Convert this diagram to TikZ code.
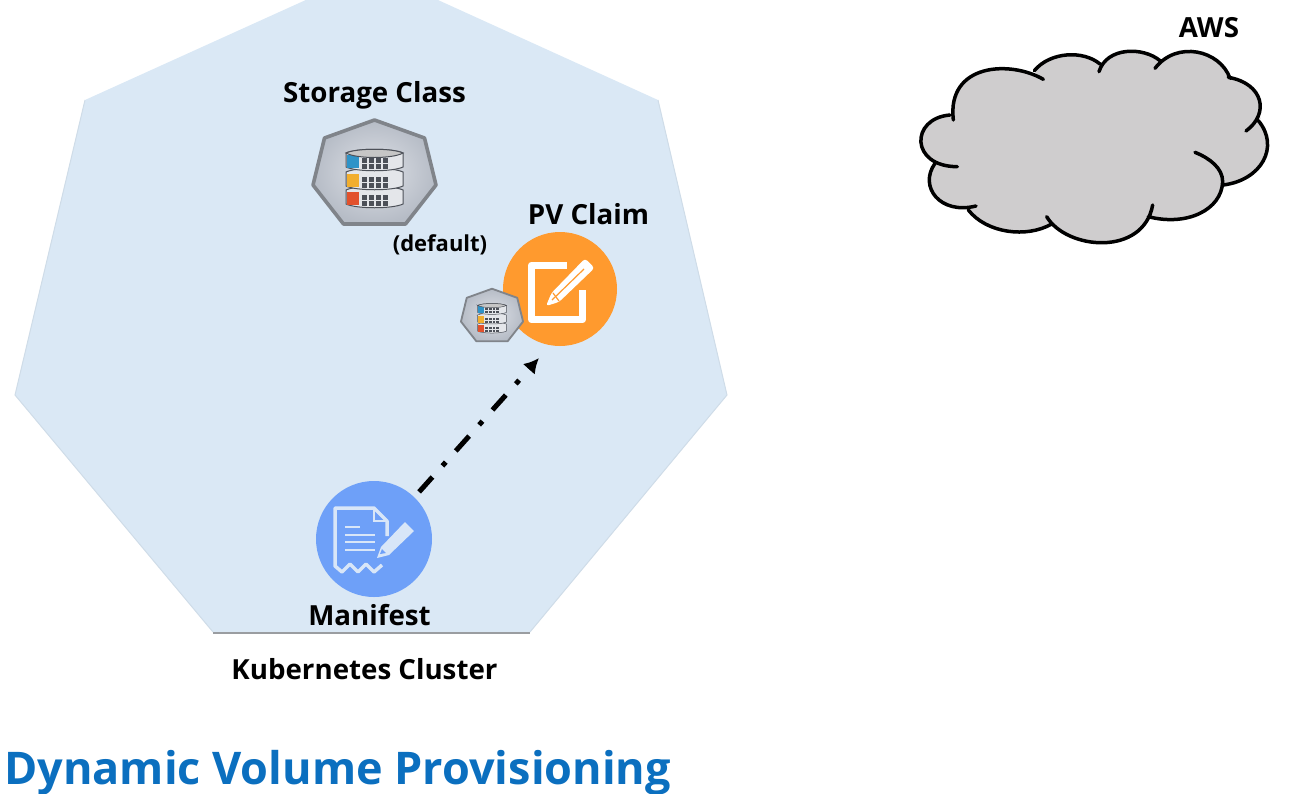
\documentclass[tikz,border=0pt]{standalone}
\usepackage{fontspec}
\setmainfont{Open Sans}
\usetikzlibrary{calc,arrows.meta,shadings}

\definecolor{clusterblue}{HTML}{DAE8F5}
\definecolor{edgegray}{HTML}{80848A}
\definecolor{cloudgray}{HTML}{CFCDCE}
\definecolor{claimorange}{HTML}{FF9A2E}
\definecolor{manifestblue}{HTML}{6EA0F8}
\definecolor{manifestline}{HTML}{D8E6F8}
\definecolor{titleblue}{HTML}{0B6FBF}
\definecolor{diskblue}{HTML}{2E93C8}
\definecolor{diskorange}{HTML}{F2AE2E}
\definecolor{diskred}{HTML}{E2512C}
\definecolor{diskline}{HTML}{4C5058}
\definecolor{hubcenter}{HTML}{DEE1E7}
\definecolor{hubedge}{HTML}{B6BCC6}
\definecolor{diskbody}{HTML}{E4E6EA}

\newcommand{\cloudlobes}{
    (430,238) .. controls (330,180) and (140,190) .. (160,360)
    (150,345) .. controls (30,355) and (30,500) .. (172,500)
    (105,490) .. controls (55,560) and (120,645) .. (228,618)
    (205,630) .. controls (260,700) and (380,715) .. (455,672)
    (440,650) .. controls (500,750) and (730,770) .. (758,615)
    (745,650) .. controls (860,680) and (965,630) .. (968,545) .. controls (968,505) and (930,475) .. (885,457)
    (970,555) .. controls (1085,540) and (1140,440) .. (1075,362)
    (1038,393) .. controls (1110,340) and (1090,250) .. (985,232)
    (990,235) .. controls (960,150) and (830,120) .. (765,205)
    (780,182) .. controls (730,140) and (620,140) .. (597,215)
    (600,192) .. controls (550,150) and (450,155) .. (403,212)
}

\tikzset{
    lab/.style={font=\bfseries\fontsize{27.7}{30}\selectfont,text=black,inner sep=0},
    storage/.pic={
        \draw[edgegray,line width=3.6pt*#1,line join=round,inner color=hubcenter,outer color=hubedge]
            (0,-55) -- (50,-37) -- (61.5,10) -- (31,49) -- (-31,49) -- (-61.5,10) -- (-50,-37) -- cycle;
        % three disks, lowest first
        \foreach \y/\c in {15/diskred,-3/diskorange,-22/diskblue}
        {
            \draw[diskline,line width=1pt*#1,fill=diskbody]
                (-28.5,\y) -- (-28.5,\y+14) .. controls (-18,\y+19) and (18,\y+19) .. (28.5,\y+14)
                -- (28.5,\y) .. controls (18,\y-5) and (-18,\y-5) .. cycle;
            \fill[\c] (-28,\y+2) rectangle (-16,\y+15);
            \foreach \u in {-13,-6,1,8}
                \foreach \v in {5,11}
                    \fill[diskline] (\u,\y+\v) rectangle ++(5.5,4.5);
        }
        \draw[diskline,line width=1pt*#1,fill=gray!45!white]
            (-28.5,-22) .. controls (-18,-27) and (18,-27) .. (28.5,-22)
            .. controls (18,-16) and (-18,-16) .. cycle;
    },
}

\begin{document}
\begin{tikzpicture}[x=1pt,y=-1pt]
    \useasboundingbox (0,0) rectangle (1312,793);

    % cluster
    \fill[clusterblue] (85,100) -- (372,-30) -- (658,100) -- (727,395) -- (530,632) -- (213,632) -- (15,395) -- cycle;
    \draw[edgegray!80!white,line width=2pt] (213,633) -- (530,633);
    \draw[edgegray!12!clusterblue,line width=1pt] (530,632) -- (727,395) -- (658,100);
    \draw[edgegray!12!clusterblue,line width=1pt] (213,632) -- (15,395) -- (85,100);

    % storage class
    \node[lab] (stclass) at (374.5,95) {Storage Class};
    \pic (stbig) at (374.5,175) {storage=1};
    \node[lab,font=\bfseries\fontsize{22}{24}\selectfont] (stdefault) at (440,245) {(default)};

    % pv claim
    \node[lab] (pvclaim) at (588.5,214) {PV Claim};
    \node[circle,fill=claimorange,minimum size=114pt,inner sep=0] (claim) at (560,289) {};
    \draw[white,line width=7pt,line join=round] (566.7,265) -- (531.6,265) -- (531.6,319.7) -- (582.7,319.7) -- (582.7,290);
    \fill[white,rounded corners=3pt] (546,306) -- (551.5,293) -- (585,258.5) -- (594.5,268) -- (559,302) -- cycle;
    \draw[claimorange,line width=1.2pt] (552,300) -- (584,269);
    \draw[claimorange,line width=1.2pt] (553,293) -- (559,301);
    \pic[scale=0.505] (stsmall) at (492,316.5) {storage=0.505};

    % manifest
    \node[circle,fill=manifestblue,minimum size=116pt,inner sep=0] (manifest) at (374,539) {};
    \draw[manifestline,line width=3.5pt,line join=round]
        (387,536) -- (387,521) -- (374,508) -- (335,508) -- (335,566) -- (342,572) -- (350,564)
        -- (358,572) -- (366,564) -- (374,572) -- (382,565);
    \draw[manifestline,line width=2.4pt] (374,508) -- (374,521) -- (387,521);
    \foreach \y/\e in {527/360,535/375,542/375,550/375}
        \draw[manifestline,line width=2pt] (345,\y) -- (\e,\y);
    \fill[manifestline] (377,558) -- (381,547) -- (405,522) -- (414,531) -- (389,555) -- cycle;
    \fill[manifestblue] (380,554) -- (382,549) -- (386,553) -- cycle;
    \node[lab] (manlabel) at (369.5,615) {Manifest};
    \node[lab] (clusterlabel) at (364.5,669) {Kubernetes Cluster};

    % arrow to the claim
    \coordinate (claimtip) at (539,358);
    \draw[line width=5pt,dash pattern=on 20pt off 15pt on 5pt off 15pt,-{Latex[length=15pt,width=16pt]},shorten <=7pt] (manifest.46) -- (claimtip);

    % cloud
    \begin{scope}[shift={(900,0)},scale=1/3]
        \filldraw[cloudgray,line width=1.5pt] (430,238) -- (160,360) -- (150,345) -- (172,500) -- (105,490) -- (228,618) -- (205,630) -- (455,672) -- (440,650) -- (758,615) -- (745,650) -- (968,545) -- (970,555) -- (1075,362) -- (1038,393) -- (985,232) -- (990,235) -- (765,205) -- (780,182) -- (597,215) -- (600,192) -- (403,212) -- cycle;
        \fill[cloudgray] \cloudlobes;
        \draw[black,line width=3.5pt,line cap=round] \cloudlobes;
    \end{scope}
    \node[lab] (aws) at (1209,28) {AWS};

    % title
    \node[font=\bfseries\fontsize{45}{48}\selectfont,text=titleblue,inner sep=0,anchor=west] (title) at (4,773) {Dynamic Volume Provisioning};
\end{tikzpicture}
\end{document}
